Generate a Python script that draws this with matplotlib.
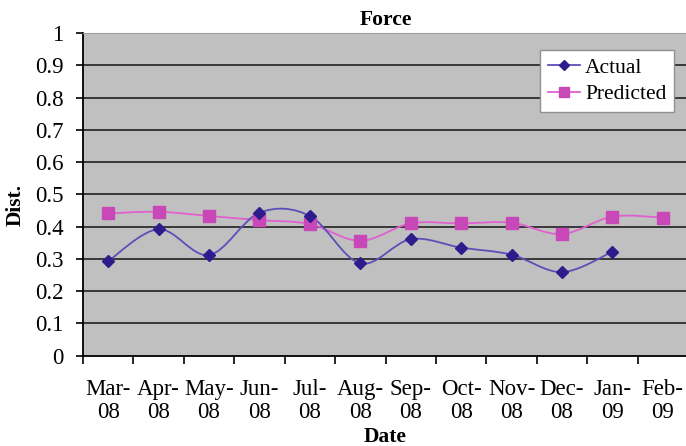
import numpy as np
import matplotlib
matplotlib.use('Agg')
import matplotlib.pyplot as plt
from matplotlib.path import Path
from matplotlib.patches import PathPatch
from matplotlib.lines import Line2D

months = ['Mar-\n08', 'Apr-\n08', 'May-\n08', 'Jun-\n08', 'Jul-\n08', 'Aug-\n08',
          'Sep-\n08', 'Oct-\n08', 'Nov-\n08', 'Dec-\n08', 'Jan-\n09', 'Feb-\n09']
actual = [0.293, 0.392, 0.312, 0.443, 0.433, 0.286, 0.361, 0.335, 0.313, 0.259, 0.322]
predicted = [0.441, 0.446, 0.433, 0.420, 0.408, 0.356, 0.410, 0.410, 0.412, 0.377, 0.431, 0.428]
yticks = [0, 0.1, 0.2, 0.3, 0.4, 0.5, 0.6, 0.7, 0.8, 0.9, 1]

plt.rcParams['font.family'] = ['Liberation Serif', 'DejaVu Serif']


def smooth_path(x, y):
    # excel-like smoothed line: catmull-rom segments as cubic beziers
    p = np.column_stack([x, y])
    n = len(p)
    verts = [p[0]]
    codes = [Path.MOVETO]
    for i in range(n - 1):
        p0 = p[i - 1] if i > 0 else p[i]
        p3 = p[i + 2] if i + 2 < n else p[i + 1]
        c1 = p[i] + (p[i + 1] - p0) / 6.0
        c2 = p[i + 1] - (p3 - p[i]) / 6.0
        verts += [c1, c2, p[i + 1]]
        codes += [Path.CURVE4] * 3
    return Path(verts, codes)


W, H = 686, 446
fig = plt.figure(figsize=(W / 100, H / 100), dpi=100)
ax = fig.add_axes([83 / W, 90.3 / H, (688 - 83) / W, 322.7 / H])
ax.set_facecolor('#c0c0c0')

xa = np.arange(len(actual)) + 0.5
xp = np.arange(len(predicted)) + 0.5

ax.add_patch(PathPatch(smooth_path(xp, predicted), fill=False, edgecolor='#e060d0', lw=1.3, zorder=3))
ax.plot(xp, predicted, ls='none', marker='s', ms=8, color='#c848b8', zorder=4)
ax.add_patch(PathPatch(smooth_path(xa, actual), fill=False, edgecolor='#5a50b8', lw=1.3, zorder=3))
ax.plot(xa, actual, ls='none', marker='D', ms=6, color='#2c1c8c', zorder=4)

ax.set_xlim(0, 12)
ax.set_ylim(0, 1)

for v in yticks[1:-1]:
    ax.axhline(v, color='#383838', lw=1.4, zorder=1)

ax.set_yticks(yticks)
ax.set_yticklabels(['0', '0.1', '0.2', '0.3', '0.4', '0.5', '0.6', '0.7', '0.8', '0.9', '1'])
ax.set_xticks(np.arange(0, 13))
ax.set_xticklabels([])
ax.set_xticks(np.arange(12) + 0.5, minor=True)
ax.set_xticklabels(months, minor=True, linespacing=1.1)
ax.tick_params(axis='x', which='minor', length=0, pad=17, labelsize=16.5)
ax.tick_params(axis='x', which='major', direction='out', length=6, width=1.2)
ax.tick_params(axis='y', direction='out', length=5, width=1.2, labelsize=16.5, pad=9)

ax.spines['left'].set_linewidth(1.3)
ax.spines['bottom'].set_linewidth(1.3)
ax.spines['top'].set_color('#a0a0a0')
ax.spines['right'].set_visible(False)

ax.set_title('Force', fontsize=15.5, fontweight='bold', pad=6)
ax.set_xlabel('Date', fontsize=15.5, fontweight='bold', labelpad=3)
ax.set_ylabel('Dist.', fontsize=15.5, fontweight='bold')
ax.yaxis.set_label_coords(-0.095, 0.467)

handles = [Line2D([], [], color='#5a50b8', marker='D', ms=5, mfc='#2c1c8c', mec='#2c1c8c', lw=1.3),
           Line2D([], [], color='#e060d0', marker='s', ms=7, mfc='#c848b8', mec='#c848b8', lw=1.3)]
leg = fig.legend(handles, ['Actual', 'Predicted'], loc='upper left',
                 bbox_to_anchor=(540 / W, 1 - 50 / H), fontsize=15.5, frameon=True,
                 fancybox=False, edgecolor='#909090', framealpha=1,
                 handlelength=1.5, handletextpad=0.25, borderpad=0.35, labelspacing=0.3,
                 borderaxespad=0)
leg.get_frame().set_linewidth(1.0)

fig.savefig('out.png', dpi=100)
